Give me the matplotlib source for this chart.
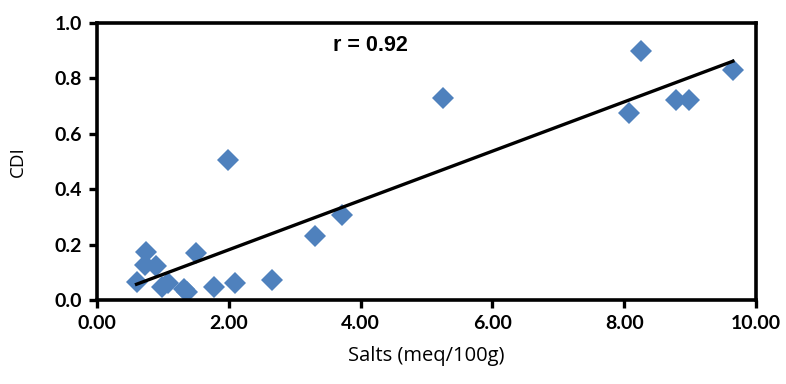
import matplotlib.pyplot as plt
import numpy as np

# salts (meq/100g) vs CDI
salts = [0.60, 0.75, 0.73, 0.89, 0.98, 1.07, 1.32, 1.36, 1.51, 1.78, 2.09,
         2.65, 3.31, 1.99, 3.72, 5.25, 8.07, 8.25, 8.79, 8.98, 9.65]
cdi = [0.064, 0.175, 0.127, 0.123, 0.048, 0.060, 0.039, 0.030, 0.169, 0.048, 0.060,
       0.072, 0.232, 0.504, 0.308, 0.728, 0.674, 0.899, 0.721, 0.721, 0.830]
r_label = 'r = 0.92'
xticks = [0, 2, 4, 6, 8, 10]
yticks = [0.0, 0.2, 0.4, 0.6, 0.8, 1.0]

plt.rcParams['font.family'] = ['Lato', 'DejaVu Sans']

fig = plt.figure(figsize=(7.86, 3.84), dpi=100)
ax = fig.add_axes([0.1234, 0.21875, 0.8384, 0.7215])

ax.plot(salts, cdi, 'D', color='#4F81BD', markersize=11.5, markeredgewidth=0, zorder=2)

# linear trend line over the data range
k, b = np.polyfit(salts, cdi, 1)
xs = np.array([min(salts), max(salts)])
ax.plot(xs, k * xs + b, color='black', linewidth=2.4, zorder=3)

ax.set_xlim(0, 10)
ax.set_ylim(0, 1.0)
ax.set_xticks(xticks)
ax.set_yticks(yticks)
ax.set_xticklabels(['%.2f' % v for v in xticks], fontweight='bold', fontsize=14)
ax.set_yticklabels(['%.1f' % v for v in yticks], fontweight='bold', fontsize=14)
ax.tick_params(direction='out', length=6, width=2.4, pad=5)
for s in ax.spines.values():
    s.set_linewidth(2.6)

ax.set_xlabel('Salts (meq/100g)', fontsize=14.5, labelpad=10, family=['Open Sans', 'DejaVu Sans'])
ax.set_ylabel('CDI', fontsize=13.5, labelpad=20, family=['Open Sans', 'DejaVu Sans'])
ax.text(3.58, 0.92, r_label, fontsize=15.5, fontweight='bold', va='center',
        family=['Liberation Sans', 'DejaVu Sans'])

fig.savefig('out.png', dpi=100)
